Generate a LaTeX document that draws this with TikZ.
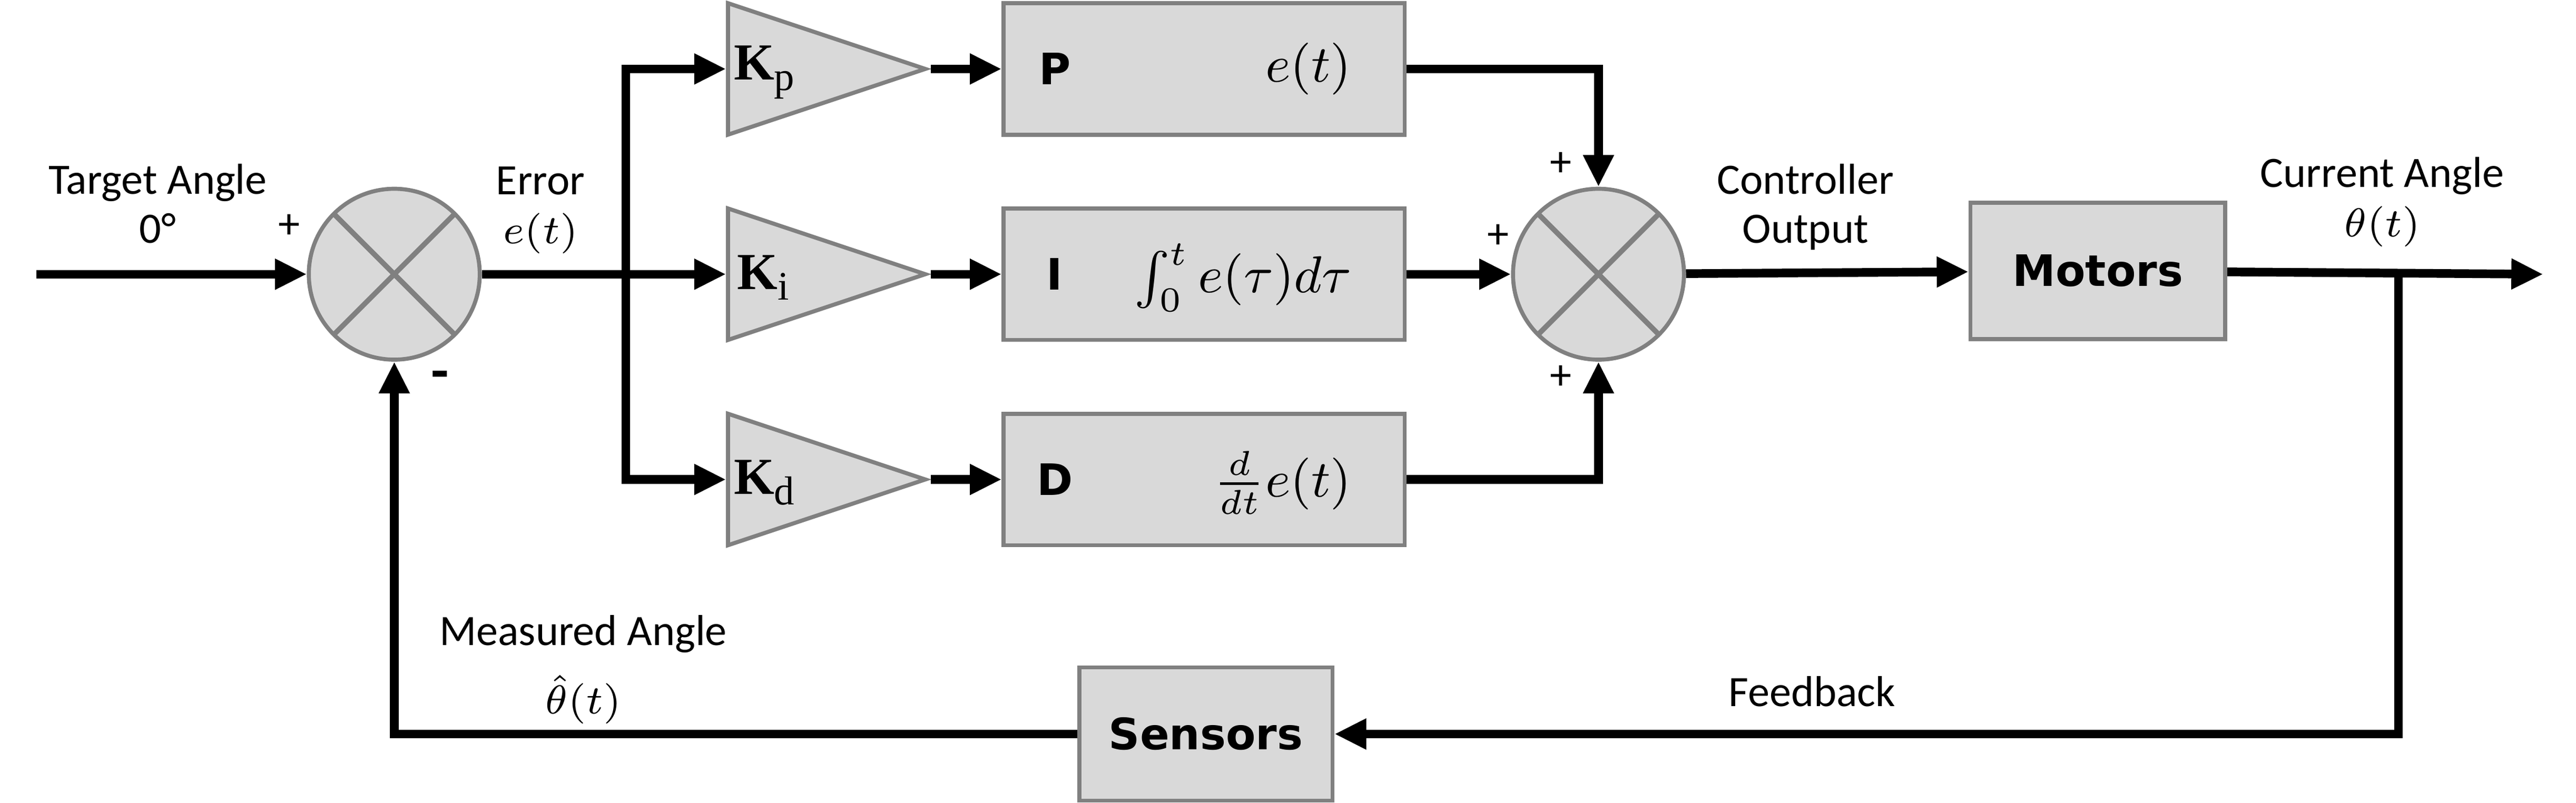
\documentclass[tikz,border=0pt]{standalone}
\usepackage{amsmath}
\usepackage{fontspec}
\setmainfont{Carlito}
\newfontfamily\blockfont{DejaVu Sans}
\newfontfamily\kfont{Liberation Serif}
\usetikzlibrary{arrows.meta, shapes.geometric}

\definecolor{boxfill}{HTML}{D9D9D9}
\definecolor{boxline}{HTML}{808080}

\newcommand{\gainlbl}[1]{{\kfont\bfseries K}{\kfont\raisebox{-0.45ex}{\fontsize{7}{7}\selectfont #1}}}

\tikzset{
    sig/.style={line width=1.5pt, -{Triangle[length=5.5pt, width=5pt]}},
    wire/.style={line width=1.5pt},
    block/.style={draw=boxline, fill=boxfill, line width=0.7pt, inner sep=0pt},
    gain/.style={isosceles triangle, isosceles triangle stretches, shape border rotate=0,
        draw=boxline, fill=boxfill, line width=0.7pt, minimum width=0.8cm, minimum height=1.2cm, inner sep=0pt},
    summer/.style={circle, draw=boxline, fill=boxfill, line width=0.7pt, minimum size=1.04cm, inner sep=0pt,
        path picture={\draw[boxline, line width=0.9pt]
            (path picture bounding box.north west) -- (path picture bounding box.south east)
            (path picture bounding box.south west) -- (path picture bounding box.north east);}},
    lbl/.style={font=\fontsize{7.5}{8.5}\selectfont, align=center},
    bold/.style={font=\blockfont\bfseries\fontsize{7.5}{8}\selectfont},
    klbl/.style={anchor=west, font=\fontsize{9}{9}\selectfont, inner sep=0pt},
}

\begin{document}
\begin{tikzpicture}[x=0.01cm, y=-0.01cm]
    \useasboundingbox (0,0) rectangle (1568,489);

    % Summing junctions
    \node[summer] (sum1) at (240,167) {};
    \node[summer] (sum2) at (973,167) {};

    % Gains
    \node[gain] (kp) at (472,42) {};
    \node[gain] (ki) at (472,167) {};
    \node[gain] (kd) at (472,292) {};
    \node[klbl] at (446,44) {\gainlbl{p}};
    \node[klbl] at (448,169) {\gainlbl{i}};
    \node[klbl] at (446,294) {\gainlbl{d}};

    % P, I, D blocks
    \node[block, minimum width=2.44cm, minimum height=0.8cm] (pb) at (733,42) {};
    \node[block, minimum width=2.44cm, minimum height=0.8cm] (ib) at (733,167) {};
    \node[block, minimum width=2.44cm, minimum height=0.8cm] (db) at (733,292) {};
    \node[bold] at (642,42) {P};
    \node[bold] at (642,167) {I};
    \node[bold] at (642,292) {D};
    \node[anchor=east, font=\fontsize{9}{9}\selectfont] at (835,42) {$e(t)$};
    \node[anchor=east, font=\fontsize{9}{9}\selectfont] at (835,169) {$\int_0^t e(\tau)d\tau$};
    \node[anchor=east, font=\fontsize{9}{9}\selectfont] at (835,294) {$\frac{d}{dt}e(t)$};

    % Plant and sensors
    \node[block, minimum width=1.55cm, minimum height=0.83cm, bold] (motors) at (1277,165) {Motors};
    \node[block, minimum width=1.54cm, minimum height=0.81cm, bold] (sensors) at (734,447) {Sensors};

    % Junction points
    \coordinate (in) at (22,167);
    \coordinate (split) at (381,167);
    \coordinate (out) at (1548,167);
    \coordinate (tap) at (1460,167);

    % Forward path
    \draw[sig] (in) -- (sum1);
    \draw[wire] (sum1) -- (split);
    \draw[sig] (split) -- (ki.west);
    \draw[sig] (split) |- (kp.west);
    \draw[sig] (split) |- (kd.west);
    \draw[sig] (kp.apex) -- (pb);
    \draw[sig] (ki.apex) -- (ib);
    \draw[sig] (kd.apex) -- (db);
    \draw[sig] (pb.east) -| (sum2.north);
    \draw[sig] (ib.east) -- (sum2.west);
    \draw[sig] (db.east) -| (sum2.south);
    \draw[sig] (sum2) -- (motors);
    \draw[sig] (motors) -- (out);

    % Feedback path
    \draw[sig] (tap) |- (sensors.east);
    \draw[sig] (sensors.west) -| (sum1.south);

    % Labels
    \node[lbl] at (96,124) {Target Angle\\0°};
    \node[lbl] at (176,138) {+};
    \node[lbl, font=\fontsize{10}{10}\selectfont\bfseries] at (268,232) {-};
    \node[lbl] at (329,128) {Error\\$e(t)$};
    \node[lbl] at (950,100) {+};
    \node[lbl] at (912,144) {+};
    \node[lbl] at (950,230) {+};
    \node[lbl] at (1099,126) {Controller\\Output};
    \node[lbl] at (1450,123) {Current Angle\\$\theta(t)$};
    \node[lbl] at (355,386) {Measured Angle};
    \node[lbl] at (355,426) {$\hat{\theta}(t)$};
    \node[lbl] at (1103,421) {Feedback};
\end{tikzpicture}
\end{document}
